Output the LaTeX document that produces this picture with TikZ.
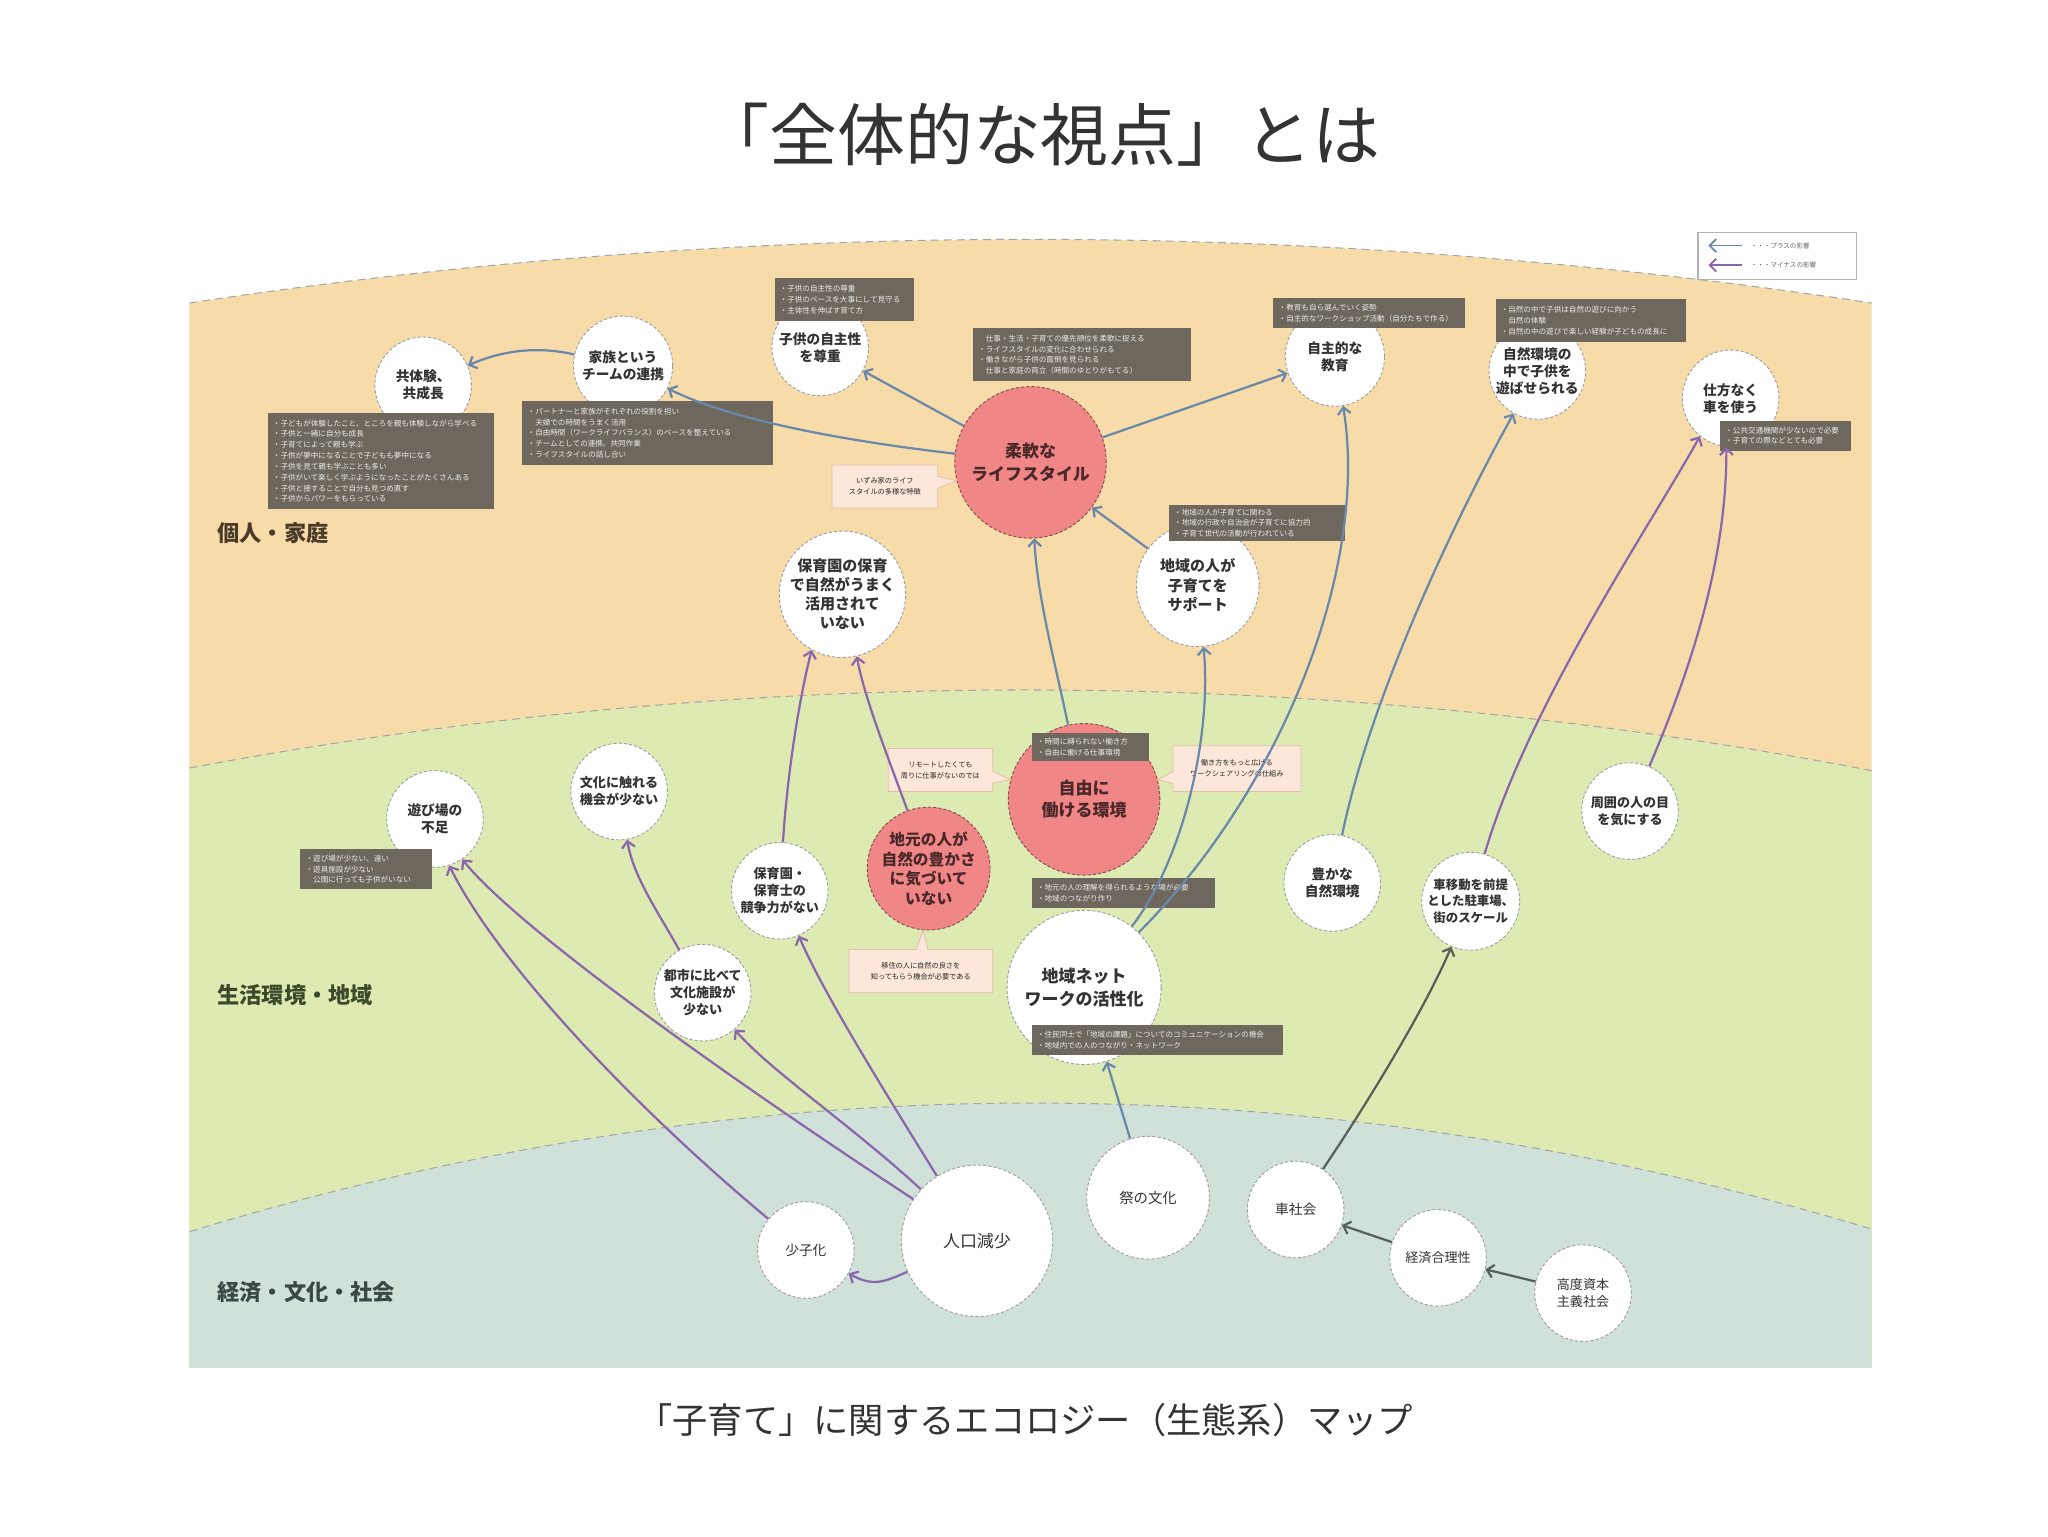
\documentclass[tikz,border=0pt]{standalone}
\usepackage{fontspec}
\setmainfont{Noto Sans CJK JP}
\usetikzlibrary{arrows.meta,shapes.callouts}
\definecolor{bandO}{HTML}{F7DCAA}
\definecolor{bandG}{HTML}{DDEAB2}
\definecolor{bandB}{HTML}{CFE1D9}
\definecolor{boxgrey}{HTML}{6E675E}
\definecolor{pinkfill}{HTML}{FCE7DA}
\definecolor{pinkdraw}{HTML}{E2BFA4}
\definecolor{redc}{HTML}{F08686}
\definecolor{plusc}{HTML}{6A88AA}
\definecolor{minusc}{HTML}{8A66AC}
\definecolor{darkc}{HTML}{56605B}
\definecolor{txt}{HTML}{333333}
\definecolor{redtxt}{HTML}{4A2828}
\definecolor{lblO}{HTML}{4A3A28}
\definecolor{lblG}{HTML}{3B4A2A}
\definecolor{lblB}{HTML}{3A4846}
\tikzset{
  cnode/.style={circle, fill=white, draw=gray!75, dash pattern=on 2.5pt off 1.5pt,
    line width=0.7pt, inner sep=0pt, align=center, text=txt,
    font=\fontsize{10.5}{13}\selectfont\bfseries},
  lnode/.style={cnode, font=\fontsize{10.5}{13}\selectfont},
  rnode/.style={cnode, fill=redc, draw=black!45!redc, text=redtxt},
  gbox/.style={rectangle, fill=boxgrey, inner xsep=4pt, inner ysep=0pt, align=left,
    text=white!92!black, font=\fontsize{5.8}{8.3}\selectfont},
  pcall/.style={rectangle callout, fill=pinkfill, draw=pinkdraw, line width=0.6pt,
    inner sep=0pt, align=center, text=gray!30!black,
    font=\fontsize{5.5}{8.5}\selectfont, callout pointer width=9pt},
  plus/.style={draw=plusc, line width=1.7pt, -{Straight Barb[length=5pt,width=10pt]}},
  minus/.style={draw=minusc, line width=1.7pt, -{Straight Barb[length=5pt,width=10pt]}},
  darkarr/.style={draw=darkc, line width=1.7pt, -{Straight Barb[length=5pt,width=10pt]}},
  bandline/.style={draw=gray!70, dash pattern=on 6pt off 4pt, line width=0.8pt},
  bandlabel/.style={anchor=west, font=\fontsize{17}{20}\selectfont\bfseries},
}
\begin{document}
\begin{tikzpicture}[x=1pt,y=-1pt]
\useasboundingbox (0,0) rectangle (1568,1176);
\fill[white] (0,0) rectangle (1568,1176);
% bands
\fill[bandO] (145,232) .. controls (574,167) and (1004,167) .. (1433,232) -- (1433,1047) -- (145,1047) -- cycle;
\fill[bandG] (145,588) .. controls (574,508) and (1004,508) .. (1433,590) -- (1433,1047) -- (145,1047) -- cycle;
\fill[bandB] (145,943) .. controls (574,812) and (1004,812) .. (1433,941) -- (1433,1047) -- (145,1047) -- cycle;
\draw[bandline] (145,232) .. controls (574,167) and (1004,167) .. (1433,232);
\draw[bandline] (145,588) .. controls (574,508) and (1004,508) .. (1433,590);
\draw[bandline] (145,943) .. controls (574,812) and (1004,812) .. (1433,941);

% titles
\node[font=\fontsize{52}{60}\selectfont, text=txt] (title) at (797,103) {「全体的な視点」とは};
\node[font=\fontsize{27}{32}\selectfont, text=txt] (caption) at (785,1087) {「子育て」に関するエコロジー（生態系）マップ};

% band labels
\node[bandlabel, text=lblO] (lab1) at (163,408) {個人・家庭};
\node[bandlabel, text=lblG] (lab2) at (163,762) {生活環境・地域};
\node[bandlabel, text=lblB] (lab3) at (163,989) {経済・文化・社会};

% circles: personal / family
\node[cnode, minimum size=74pt] (kyo) at (324,295) {共体験、\\共成長};
\node[cnode, minimum size=76pt] (kazoku) at (477,280) {家族という\\チームの連携};
\node[cnode, minimum size=74pt] (jishusei) at (628,266) {子供の自主性\\を尊重};
\node[rnode, minimum size=116pt, font=\fontsize{13}{17}\selectfont\bfseries] (junan) at (789,354) {柔軟な\\ライフスタイル};
\node[cnode, minimum size=76pt] (jishuteki) at (1022,273) {自主的な\\教育};
\node[cnode, minimum size=74pt] (shizen) at (1177,284) {自然環境の\\中で子供を\\遊ばせられる};
\node[cnode, minimum size=74pt] (shikata) at (1325,305) {仕方なく\\車を使う};
\node[cnode, minimum size=92pt, font=\fontsize{11.5}{14.5}\selectfont\bfseries] (hoikuen) at (645,455) {保育園の保育\\で自然がうまく\\活用されて\\いない};
\node[cnode, minimum size=94pt, font=\fontsize{11.5}{15}\selectfont\bfseries] (chiiki) at (917,448) {地域の人が\\子育てを\\サポート};

% circles: living environment / region
\node[cnode, minimum size=74pt] (asobi) at (333,627) {遊び場の\\不足};
\node[cnode, minimum size=74pt, font=\fontsize{10}{13}\selectfont\bfseries] (bunka) at (474,606) {文化に触れる\\機会が少ない};
\node[rnode, minimum size=116pt, font=\fontsize{13}{17}\selectfont\bfseries] (jiyu) at (830,612) {自由に\\働ける環境};
\node[rnode, minimum size=94pt, font=\fontsize{12}{15}\selectfont\bfseries] (jimoto) at (711,665) {地元の人が\\自然の豊かさ\\に気づいて\\いない};
\node[cnode, minimum size=74pt, font=\fontsize{10}{13}\selectfont\bfseries] (hoikushi) at (597,682) {保育園・\\保育士の\\競争力がない};
\node[cnode, minimum size=74pt, font=\fontsize{10}{13}\selectfont\bfseries] (toshi) at (538,760) {都市に比べて\\文化施設が\\少ない};
\node[cnode, minimum size=118pt, font=\fontsize{13}{17}\selectfont\bfseries] (network) at (830,756) {地域ネット\\ワークの活性化};
\node[cnode, minimum size=74pt] (yutaka) at (1020,676) {豊かな\\自然環境};
\node[cnode, minimum size=75pt, font=\fontsize{9.5}{12.5}\selectfont\bfseries] (idou) at (1126,690) {車移動を前提\\とした駐車場、\\街のスケール};
\node[cnode, minimum size=74pt, font=\fontsize{10}{13}\selectfont\bfseries] (shui) at (1248,621) {周囲の人の目\\を気にする};

% circles: economy / culture / society
\node[lnode, minimum size=74pt] (shoshika) at (617,957) {少子化};
\node[lnode, minimum size=116pt, font=\fontsize{13}{16}\selectfont] (jinko) at (748,950) {人口減少};
\node[lnode, minimum size=94pt, font=\fontsize{11}{14}\selectfont] (matsuri) at (879,917) {祭の文化};
\node[lnode, minimum size=74pt] (kuruma) at (992,926) {車社会};
\node[lnode, minimum size=74pt, font=\fontsize{10}{13}\selectfont] (keizai) at (1101,963) {経済合理性};
\node[lnode, minimum size=74pt, font=\fontsize{10}{13}\selectfont] (koudo) at (1212,990) {高度資本\\主義社会};

% grey note boxes
\node[gbox, minimum width=173pt, minimum height=74pt, text width=165pt] (boxA) at (291.5,353) {・子どもが体験したこと、ところを親も体験しながら学べる\\・子供と一緒に自分も成長\\・子育てによって親も学ぶ\\・子供が夢中になることで子どもも夢中になる\\・子供を見て親も学ぶことも多い\\・子供がいて楽しく学ぶようになったことがたくさんある\\・子供と接することで自分も見つめ直す\\・子供からパワーをもらっている};
\node[gbox, minimum width=192pt, minimum height=49pt, text width=184pt] (boxB) at (496,331.5) {・パートナーと家族がそれぞれの役割を担い\\　夫婦での時間をうまく活用\\・自由時間（ワークライフバランス）のベースを整えている\\・チームとしての連携、共同作業\\・ライフスタイルの話し合い};
\node[gbox, minimum width=107pt, minimum height=33pt, text width=99pt] (boxC) at (646.5,229.5) {・子供の自主性の尊重\\・子供のペースを大事にして見守る\\・主体性を伸ばす育て方};
\node[gbox, minimum width=167pt, minimum height=41pt, text width=159pt] (boxD) at (828.5,271.5) {　仕事・生活・子育ての優先順位を柔軟に捉える\\・ライフスタイルの変化に合わせられる\\・働きながら子供の面倒を見られる\\　仕事と家庭の両立（時間のゆとりがもてる）};
\node[gbox, minimum width=147pt, minimum height=23pt, text width=139pt] (boxF) at (1048.5,239.5) {・教育も自ら選んでいく姿勢\\・自主的なワークショップ活動（自分たちで作る）};
\node[gbox, minimum width=146pt, minimum height=33pt, text width=138pt] (boxG) at (1218,245.5) {・自然の中で子供は自然の遊びに向かう\\　自然の体験\\・自然の中の遊びで楽しい経験が子どもの成長に};
\node[gbox, minimum width=100pt, minimum height=23pt, text width=92pt] (boxH) at (1367,333.5) {・公共交通機関が少ないので必要\\・子育ての際などとても必要};
\node[gbox, minimum width=135pt, minimum height=27pt, text width=127pt, font=\fontsize{5.8}{8}\selectfont] (boxI) at (962.5,400.5) {・地域の人が子育てに関わる\\・地域の行政や自治会が子育てに協力的\\・子育て世代の活動が行われている};
\node[gbox, minimum width=90pt, minimum height=22pt, text width=82pt] (boxJ) at (835,572) {・時間に縛られない働き方\\・自由に働ける仕事環境};
\node[gbox, minimum width=140pt, minimum height=23pt, text width=132pt] (boxM) at (860,683.5) {・地元の人の理解を得られるような場が必要\\・地域のつながり作り};
\node[gbox, minimum width=192pt, minimum height=23pt, text width=184pt] (boxO) at (886,796.5) {・住民同士で「地域の課題」についてのコミュニケーションの機会\\・地域内での人のつながり・ネットワーク};
\node[gbox, minimum width=101pt, minimum height=31pt, text width=93pt] (boxP) at (280.5,665.5) {・遊び場が少ない、遠い\\・遊具施設が少ない\\　公園に行っても子供がいない};

% pink callouts
\node[pcall, minimum width=81pt, minimum height=33pt, callout absolute pointer={(junan.194)}] (calE) at (677.5,372.5) {いずみ家のライフ\\スタイルの多様な特徴};
\node[pcall, minimum width=80pt, minimum height=33pt, callout absolute pointer={(jiyu.165)}] (calK) at (720,589.5) {リモートしたくても\\周りに仕事がないのでは};
\node[pcall, minimum width=98pt, minimum height=35pt, callout absolute pointer={(jiyu.15)}] (calL) at (947,588.5) {働き方をもっと広げる\\ワークシェアリングの仕組み};
\node[pcall, minimum width=110pt, minimum height=33pt, callout absolute pointer={(jimoto.-95)}] (calN) at (705,743.5) {移住の人に自然の良さを\\知ってもらう機会が必要である};

% legend
\node[draw=gray!60, fill=white, line width=0.8pt, minimum width=121pt, minimum height=36pt] (legend) at (1360.5,196) {};
\coordinate (lp1) at (1334,188);
\coordinate (lp0) at (1308,188);
\coordinate (lm1) at (1334,203);
\coordinate (lm0) at (1308,203);
\draw[plus, line width=1.4pt] (lp1) -- (lp0);
\draw[minus, line width=1.4pt] (lm1) -- (lm0);
\node[anchor=west, font=\fontsize{5}{6}\selectfont, text=gray!80!black] (lt1) at (1337,188) {・・・プラスの影響};
\node[anchor=west, font=\fontsize{5}{6}\selectfont, text=gray!80!black] (lt2) at (1337,203) {・・・マイナスの影響};

% plus connectors
\draw[plus] (kazoku) .. controls (412,265) and (385,268) .. (kyo);
\draw[plus] (junan) .. controls (650,338) and (560,322) .. (kazoku);
\draw[plus] (junan) -- (jishusei);
\draw[plus] (junan) -- (jishuteki);
\draw[plus] (jiyu) .. controls (806,500) and (794,455) .. (junan);
\draw[plus] (chiiki) -- (junan);
\draw[plus] (network) .. controls (905,660) and (928,565) .. (chiiki);
\draw[plus] (network) .. controls (985,600) and (1048,430) .. (jishuteki);
\draw[plus] (yutaka) .. controls (1050,530) and (1118,390) .. (shizen);
\draw[plus] (matsuri) -- (network);

% minus connectors
\draw[minus] (jinko) .. controls (676,982) and (668,985) .. (shoshika);
\draw[minus] (shoshika) .. controls (500,860) and (385,745) .. (asobi.-73);
\draw[minus] (jinko) .. controls (580,840) and (400,715) .. (asobi.-56);
\draw[minus] (jinko) .. controls (650,860) and (590,820) .. (toshi);
\draw[minus] (jinko) .. controls (680,840) and (630,760) .. (hoikushi);
\draw[minus] (toshi) .. controls (505,700) and (485,672) .. (bunka);
\draw[minus] (hoikushi) .. controls (603,590) and (612,535) .. (hoikuen.-119);
\draw[minus] (jimoto) .. controls (680,580) and (662,535) .. (hoikuen.-77);
\draw[minus] (idou) .. controls (1170,540) and (1262,405) .. (shikata.-129);
\draw[minus] (shui) .. controls (1300,500) and (1322,420) .. (shikata.-95);

% dark connectors
\draw[darkarr] (koudo) -- (keizai);
\draw[darkarr] (keizai) -- (kuruma);
\draw[darkarr] (kuruma) .. controls (1050,840) and (1092,770) .. (idou);
\end{tikzpicture}
\end{document}
